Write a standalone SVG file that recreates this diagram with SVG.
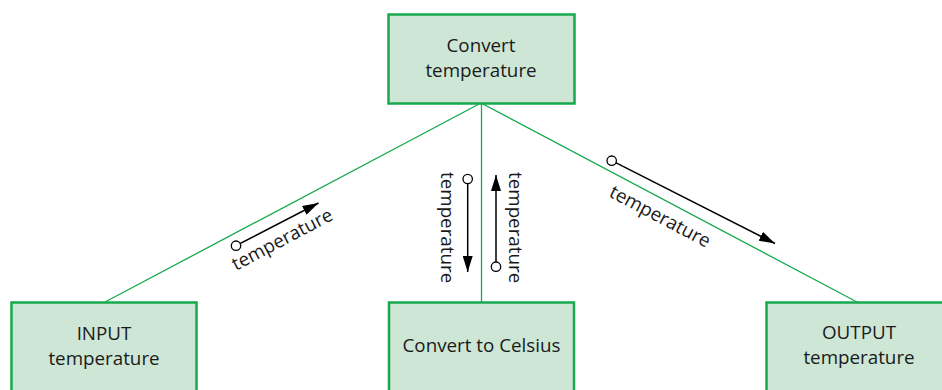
<svg xmlns="http://www.w3.org/2000/svg" width="942" height="390" viewBox="0 0 942 390">
<style>
.box{fill:#cde6d5;stroke:#16a94e;stroke-width:2.5}
.lbl{font-family:"Open Sans","Noto Sans","Liberation Sans",sans-serif;font-size:18.8px;fill:#1a1a1a}
.c{text-anchor:middle}
.edge{stroke:#16a94e;stroke-width:1.3;fill:none}
.flow{stroke:#000;stroke-width:1.5;fill:none;marker-end:url(#ah)}
.dot{fill:#fff;stroke:#000;stroke-width:1.3}
</style>
<defs>
<marker id="ah" viewBox="0 0 16 10" refX="16" refY="5" markerWidth="16" markerHeight="10" markerUnits="userSpaceOnUse" orient="auto">
<path d="M0,0 L16,5 L0,10 z" fill="#000"/>
</marker>
</defs>
<g id="connectors">
<line class="edge" x1="481" y1="103" x2="105" y2="302"/>
<line class="edge" x1="481.5" y1="103" x2="481.5" y2="302"/>
<line class="edge" x1="481" y1="103" x2="857" y2="302"/>
<g id="flow-input">
<line class="flow" x1="236" y1="245.7" x2="318.5" y2="203"/>
<circle class="dot" cx="236" cy="245.7" r="4.7"/>
<text class="lbl" transform="translate(236,271) rotate(-27.9)">temperature</text>
</g>
<g id="flow-down">
<line class="flow" x1="467.7" y1="179" x2="467.7" y2="272"/>
<circle class="dot" cx="467.7" cy="179" r="4.7"/>
<text class="lbl" transform="translate(441,172) rotate(90)">temperature</text>
</g>
<g id="flow-up">
<line class="flow" x1="496" y1="266.7" x2="496" y2="175"/>
<circle class="dot" cx="496" cy="266.7" r="4.7"/>
<text class="lbl" transform="translate(509,172) rotate(90)">temperature</text>
</g>
<g id="flow-output">
<line class="flow" x1="611.7" y1="160.7" x2="775" y2="243.5"/>
<circle class="dot" cx="611.7" cy="160.7" r="4.7"/>
<text class="lbl" transform="translate(608,196) rotate(27.9)">temperature</text>
</g>
</g>
<g id="convert-temperature">
<rect class="box" x="388.5" y="14.5" width="186" height="89"/>
<text class="lbl c" x="481" y="52">Convert</text>
<text class="lbl c" x="481" y="77">temperature</text>
</g>
<g id="input-temperature">
<rect class="box" x="11.5" y="302.5" width="185" height="100"/>
<text class="lbl c" x="104" y="340">INPUT</text>
<text class="lbl c" x="104" y="365">temperature</text>
</g>
<g id="convert-to-celsius">
<rect class="box" x="389" y="302.5" width="185" height="100"/>
<text class="lbl c" x="481.5" y="352">Convert to Celsius</text>
</g>
<g id="output-temperature">
<rect class="box" x="766.5" y="302.5" width="185" height="100"/>
<text class="lbl c" x="859" y="339">OUTPUT</text>
<text class="lbl c" x="859" y="364">temperature</text>
</g>
</svg>
